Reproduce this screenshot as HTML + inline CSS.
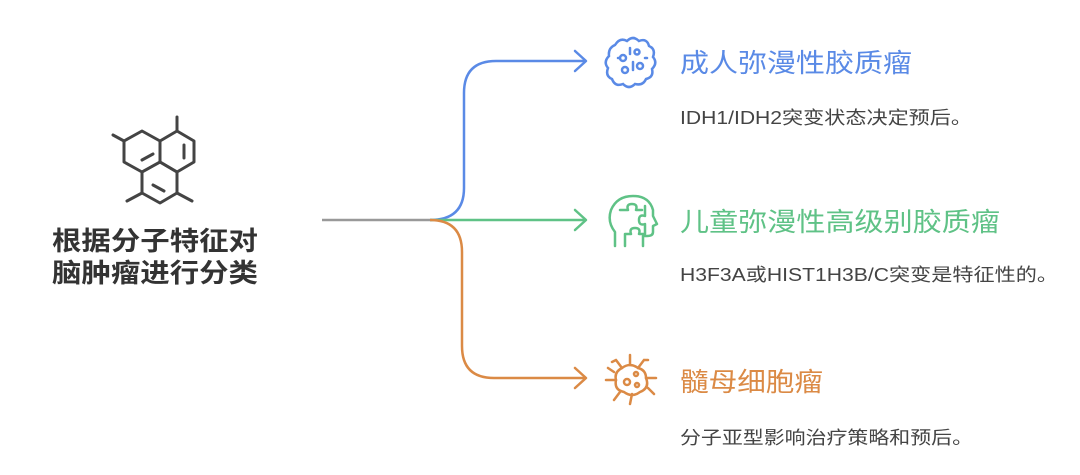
<!DOCTYPE html>
<html><head><meta charset="utf-8"><style>
html,body{margin:0;padding:0;background:#fff;}
svg{display:block;}
text{font-family:"Liberation Sans","Noto Sans CJK SC",sans-serif;}
</style></head><body>
<svg width="1080" height="475" viewBox="0 0 1080 475" xmlns="http://www.w3.org/2000/svg">
<!-- molecule -->
<g fill="none" stroke="#444" stroke-width="3" stroke-linecap="round" stroke-linejoin="round">
<polygon points="124,141 142,131 160,141 160,162 142,172 124,162"/>
<polygon points="160,141 177,131 194,141 194,162 177,172 160,162"/>
<polygon points="142,172 160,162 177,172 177,193 160,203 142,193"/>
<line x1="177" y1="131" x2="177" y2="117"/>
<line x1="124" y1="141" x2="113" y2="135"/>
<line x1="142" y1="193" x2="127" y2="201"/>
<line x1="177" y1="193" x2="192" y2="201"/>
<line x1="184" y1="145" x2="184" y2="158"/>
<line x1="142" y1="160" x2="153" y2="154"/>
<line x1="153" y1="185" x2="164" y2="191"/>
</g>
<text x="155" y="250" text-anchor="middle" font-size="26" font-weight="bold" fill="#333" textLength="206" lengthAdjust="spacingAndGlyphs">根据分子特征对</text>
<text x="155" y="282" text-anchor="middle" font-size="26" font-weight="bold" fill="#333" textLength="206" lengthAdjust="spacingAndGlyphs">脑肿瘤进行分类</text>
<!-- connectors -->
<line x1="322" y1="220" x2="432" y2="220" stroke="#999" stroke-width="2.5"/>
<path d="M430,220 Q464,220 464,188 L464,93 Q464,61 496,61 L585,61" fill="none" stroke="#5a8ae6" stroke-width="2.5"/>
<path d="M575,51 L586,61 L575,71" fill="none" stroke="#5a8ae6" stroke-width="2.5" stroke-linecap="round" stroke-linejoin="round"/>
<line x1="430" y1="220" x2="585" y2="220" stroke="#5fc286" stroke-width="2.5"/>
<path d="M575,210 L586,220 L575,230" fill="none" stroke="#5fc286" stroke-width="2.5" stroke-linecap="round" stroke-linejoin="round"/>
<path d="M430,220 Q462,220 462,252 L462,346 Q462,378 494,378 L585,378" fill="none" stroke="#db8a45" stroke-width="2.5"/>
<path d="M575,368 L586,378 L575,388" fill="none" stroke="#db8a45" stroke-width="2.5" stroke-linecap="round" stroke-linejoin="round"/>
<!-- icons -->
<g fill="none" stroke="#5a8ae6" stroke-width="2.5" stroke-linecap="round">
<path d="M615,45 q5,-8 12,-4 q6,-6 12,0 q8,-3 10,5 q7,3 4,11 q5,6 -1,12 q2,8 -6,10 q-3,7 -11,5 q-6,6 -12,0 q-8,3 -11,-5 q-7,-3 -4,-11 q-5,-6 1,-12 q-1,-8 6,-11z"/>
<circle cx="623" cy="58" r="3"/><circle cx="637" cy="52" r="2.5"/><circle cx="625" cy="70" r="3"/><circle cx="640" cy="66" r="3"/>
<path d="M618,58 h2 M630,48 v6 M633,62 v8 M645,58 h2"/>
</g>
<g fill="none" stroke="#5fc286" stroke-width="2.5" stroke-linecap="round" stroke-linejoin="round">
<path d="M615,246 v-14 q-8,-10 -4,-22 q6,-14 22,-14 q16,0 20,14 l0,6 l4,8 l-4,2 v6 q0,4 -6,4 h-4 v10"/>
<path d="M625,246 v-12 h6 q-2,-6 4,-6 q6,0 4,6 h6 v-10 q-6,2 -6,-4 q0,-6 6,-4 v-10"/>
<path d="M620,210 h8 q-2,-6 4,-6 q6,0 4,6 h6"/>
</g>
<g fill="none" stroke="#db8a45" stroke-width="2.5" stroke-linecap="round">
<path d="M622,368 q8,-6 16,0 q8,2 8,10 q4,10 -6,14 q-8,6 -16,0 q-10,-2 -8,-12 q-2,-8 6,-12z"/>
<circle cx="627" cy="382" r="3"/><circle cx="636" cy="374" r="2"/><circle cx="637" cy="385" r="2"/>
<path d="M622,368 l-6,-8 M616,360 l-4,2 M630,365 v-10 M638,368 l6,-8 M644,360 l4,0 M646,378 l10,0 M648,388 l6,6 M632,394 l-2,10 M620,392 l-6,8 M616,380 l-10,0 M614,372 l-6,-4"/>
</g>
<!-- labels -->
<text x="680" y="72" font-size="26" fill="#5a8ae6" textLength="232" lengthAdjust="spacingAndGlyphs">成人弥漫性胶质瘤</text>
<text x="680" y="124" font-size="18" fill="#444" textLength="292" lengthAdjust="spacingAndGlyphs">IDH1/IDH2突变状态决定预后。</text>
<text x="680" y="231" font-size="26" fill="#5fc286" textLength="320" lengthAdjust="spacingAndGlyphs">儿童弥漫性高级别胶质瘤</text>
<text x="680" y="281" font-size="18" fill="#444" textLength="378" lengthAdjust="spacingAndGlyphs">H3F3A或HIST1H3B/C突变是特征性的。</text>
<text x="680" y="391" font-size="26" fill="#db8a45" textLength="143" lengthAdjust="spacingAndGlyphs">髓母细胞瘤</text>
<text x="680" y="444" font-size="18" fill="#444" textLength="293" lengthAdjust="spacingAndGlyphs">分子亚型影响治疗策略和预后。</text>
</svg>
</body></html>
